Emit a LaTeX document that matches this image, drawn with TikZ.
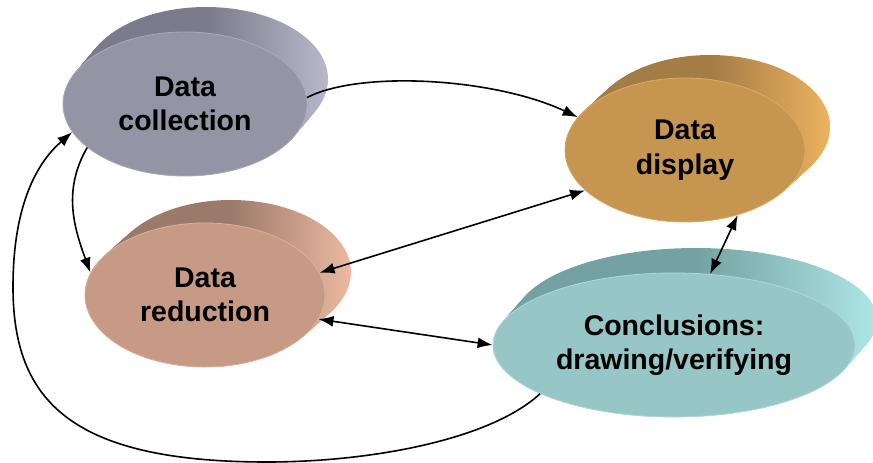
\documentclass[tikz,border=0pt]{standalone}
\usepackage{fontspec}
\setmainfont{Liberation Sans}
\usetikzlibrary{arrows.meta,shapes.geometric}
\definecolor{collF}{RGB}{148,148,164}
\definecolor{collD}{RGB}{124,123,140}
\definecolor{collL}{RGB}{184,184,202}
\definecolor{collR}{RGB}{170,170,186}
\definecolor{dispF}{RGB}{198,150,80}
\definecolor{dispD}{RGB}{164,124,70}
\definecolor{dispL}{RGB}{236,178,94}
\definecolor{dispR}{RGB}{222,170,100}
\definecolor{redF}{RGB}{198,154,132}
\definecolor{redD}{RGB}{156,122,106}
\definecolor{redL}{RGB}{236,186,162}
\definecolor{redR}{RGB}{220,176,156}
\definecolor{conF}{RGB}{150,198,198}
\definecolor{conD}{RGB}{116,162,162}
\definecolor{conL}{RGB}{174,230,230}
\definecolor{conR}{RGB}{176,216,216}
\newcommand{\diskside}[8]{%
  \foreach \i [evaluate=\i as \t using \i/30] in {0,...,30}{%
    \shade[left color=#7, right color=#8, middle color=#7]
      ({#1+\t*#5},{#2+\t*#6}) ellipse[x radius=#3, y radius=#4];
  }%
}
\tikzset{
  face/.style={ellipse, inner sep=0pt, align=center,
    font=\fontsize{28.5}{34.5}\selectfont\bfseries, text=black},
  conn/.style={line width=1.6pt, -{Latex[length=15pt,width=11pt]}},
  conn2/.style={line width=1.6pt, {Latex[length=15pt,width=11pt]}-{Latex[length=15pt,width=11pt]}}
}
\begin{document}
\begin{tikzpicture}[x=1pt,y=-1pt]
\useasboundingbox (0,0) rectangle (873,463);
% 3D sides
\diskside{185}{104}{122}{72}{21}{-25}{collD}{collL}
\diskside{685}{150}{120}{72}{25}{-23}{dispD}{dispL}
\diskside{205}{295}{120}{72}{26}{-23}{redD}{redL}
\diskside{674}{345}{181}{72}{22}{-25}{conD}{conL}
% front faces
\node[face, fill=collF, draw=collR, line width=0.8pt, minimum width=244pt, minimum height=144pt] (coll) at (185,104) {Data\\collection};
\node[face, fill=dispF, draw=dispR, line width=0.8pt, minimum width=240pt, minimum height=144pt] (disp) at (685,150) {Data\\display};
\node[face, fill=redF, draw=redR, line width=0.8pt, minimum width=240pt, minimum height=144pt] (red) at (205,295) {Data\\reduction};
\node[face, fill=conF, draw=conR, line width=0.8pt, minimum width=362pt, minimum height=144pt] (con) at (674,345) {Conclusions:\\drawing/verifying};
% connectors
\draw[conn] (coll.3) .. controls (360,70) and (495,78) .. (disp.163);
\draw[conn] (coll.204) to[out=240, in=110] (red.169);
\draw[conn2] (red.11) -- (disp.202);
\draw[conn2] (red.348) -- (con.180);
\draw[conn2] (disp.309) -- (con.63);
\draw[conn] (con.200) .. controls (490,440) and (370,462) .. (267,462)
  .. controls (70,462) and (13,400) .. (13,287)
  .. controls (13,200) and (40,160) .. (coll.194);
\end{tikzpicture}
\end{document}
